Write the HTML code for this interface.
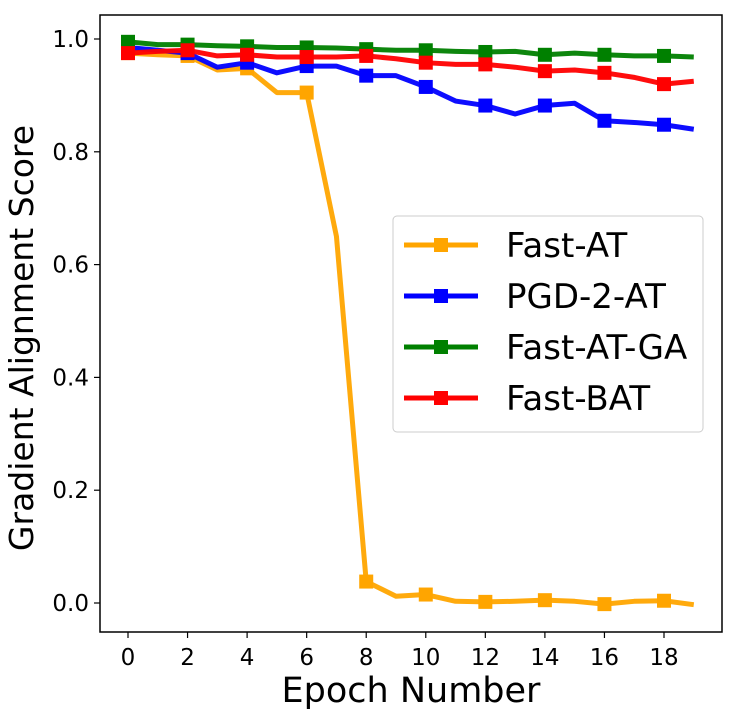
<!DOCTYPE html>
<html><head><meta charset="utf-8"><style>
body{margin:0;background:#fff;}
svg text{font-family:"DejaVu Sans",sans-serif;fill:#000;}
</style></head><body>
<svg id="chart" width="730" height="710" xmlns="http://www.w3.org/2000/svg">
<rect x="100" y="15" width="622" height="617" fill="#fff" stroke="#000" stroke-width="1.5"/>
<g id="ticks"></g>
<g id="series"></g>
<text x="411" y="702" font-size="35" text-anchor="middle">Epoch Number</text>
<text transform="translate(33,338) rotate(-90)" font-size="33" text-anchor="middle">Gradient Alignment Score</text>
<g>
<rect x="393" y="216" width="310" height="216" rx="4" fill="#fff" fill-opacity="0.85" stroke="#ccc" stroke-width="1"/>
<g id="legend-items"></g>
</g>
</svg>
<script>
const epochs=[0,1,2,3,4,5,6,7,8,9,10,11,12,13,14,15,16,17,18,19];
const xTicks=[0,2,4,6,8,10,12,14,16,18];
const yTicks=[0.0,0.2,0.4,0.6,0.8,1.0];
const seriesNames=["Fast-AT","PGD-2-AT","Fast-AT-GA","Fast-BAT"];
const seriesColors=["#ffa500","#0000ff","#008000","#ff0000"];
const fastAT=[0.975,0.972,0.97,0.945,0.948,0.905,0.905,0.65,0.038,0.012,0.015,0.003,0.002,0.003,0.005,0.003,-0.002,0.003,0.004,-0.003];
const pgd2AT=[0.985,0.98,0.975,0.95,0.958,0.94,0.952,0.952,0.935,0.935,0.915,0.89,0.882,0.867,0.882,0.886,0.855,0.852,0.848,0.84];
const fastATGA=[0.995,0.99,0.99,0.988,0.987,0.985,0.985,0.984,0.982,0.98,0.98,0.978,0.977,0.978,0.972,0.975,0.972,0.97,0.97,0.968];
const fastBAT=[0.975,0.978,0.98,0.97,0.972,0.968,0.968,0.968,0.97,0.965,0.958,0.955,0.955,0.95,0.943,0.945,0.94,0.932,0.92,0.925];
const allSeries=[fastAT,pgd2AT,fastATGA,fastBAT];
const NS="http://www.w3.org/2000/svg";
function xs(e){return 128+(e-0)*(664-128)/18;}
function ys(v){return 603-v*564;}
function mk(t,a,p){const el=document.createElementNS(NS,t);for(const k in a)el.setAttribute(k,a[k]);p.appendChild(el);return el;}
const tg=document.getElementById('ticks');
xTicks.forEach(t=>{
  const l=mk('line',{x1:xs(t),x2:xs(t),y1:632,y2:638,stroke:'#000','stroke-width':1.2},tg);
  
  
  const tx=mk('text',{x:xs(t),y:665,'font-size':23,'text-anchor':'middle'},tg);
  tx.textContent=t;
  
  
});
yTicks.forEach(t=>{
  const l=mk('line',{x1:94,x2:100,y1:ys(t),y2:ys(t),stroke:'#000','stroke-width':1.2},tg);
  
  
  const tx=mk('text',{x:89,y:ys(t)+8,'font-size':23,'text-anchor':'end'},tg);
  tx.textContent=t.toFixed(1);
  
  
});
const sg=document.getElementById('series');
allSeries.forEach((s,i)=>{
  const g=mk('g',{},sg);
  
  
  const pts=s.map((v,j)=>xs(epochs[j])+','+ys(v)).join(' ');
  const pl=mk('polyline',{points:pts,fill:'none',stroke:seriesColors[i],'stroke-width':5,'stroke-linejoin':'round','stroke-opacity':0.95},g);
  
  
  s.forEach((v,j)=>{
    if(epochs[j]%2!==0)return;
    const r=mk('rect',{x:xs(epochs[j])-7,y:ys(v)-7,width:14,height:14,fill:seriesColors[i]},g);
    
    
  });
});
const lg=document.getElementById('legend-items');
const legY=[245,296,347,398];
seriesNames.forEach((n,i)=>{
  const g=mk('g',{},lg);
  
  
  mk('line',{x1:404,x2:478,y1:legY[i],y2:legY[i],stroke:seriesColors[i],'stroke-width':5},g);
  mk('rect',{x:434,y:legY[i]-7,width:14,height:14,fill:seriesColors[i]},g);
  const t=mk('text',{x:506,y:legY[i]+12,'font-size':34},g);
  t.textContent=n;
});
</script>
</body></html>
